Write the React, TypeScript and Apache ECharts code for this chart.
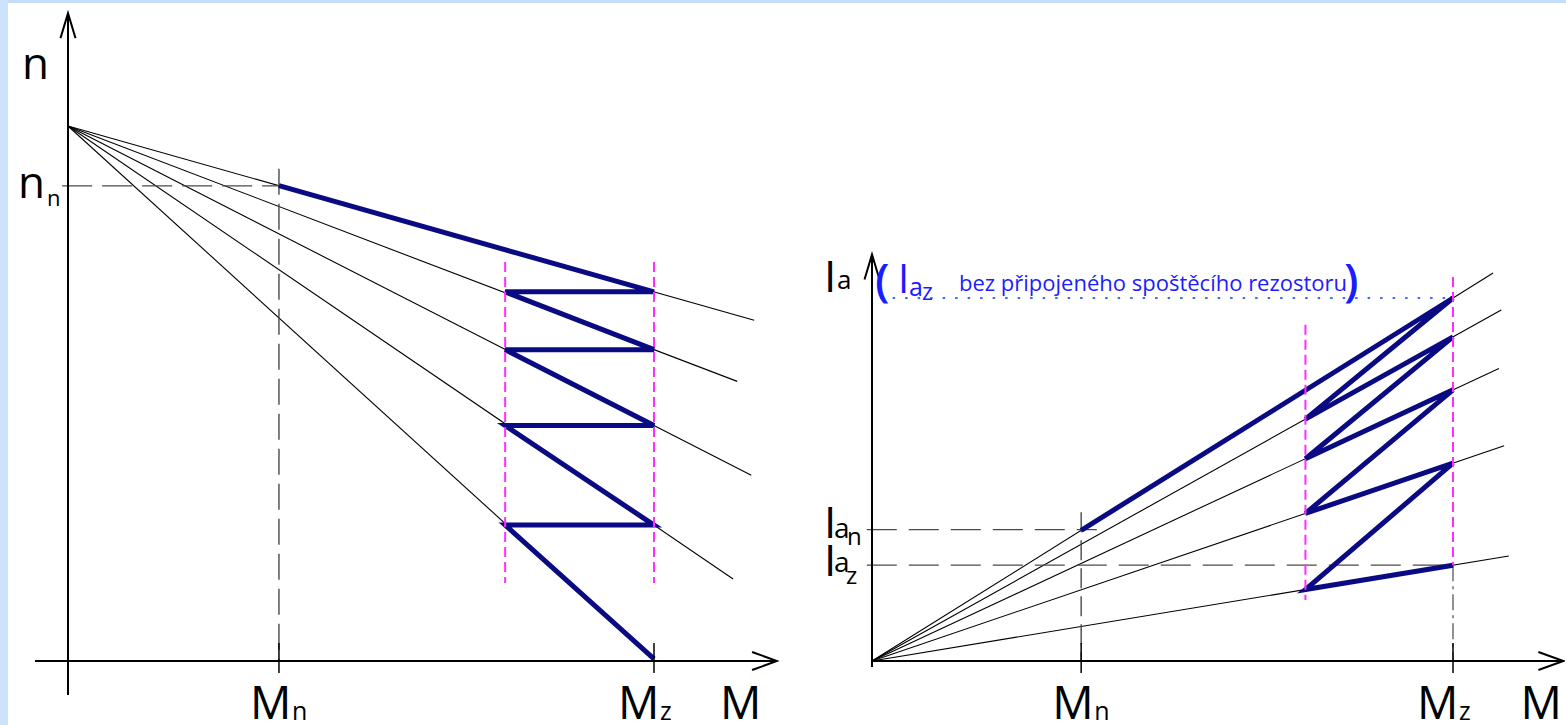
import React, { useEffect, useRef } from 'react';
import * as echarts from 'echarts';

// Torque marks shared by both diagrams (M_z = 100)
const TORQUE_NOMINAL = 36;
const TORQUE_SWITCH = 74.6;
const TORQUE_MAX = 100;

// Speed characteristics n(M)
const SPEED_IDLE = 100;
const SPEED_NOMINAL = 88.8;
const speedAtMz = [69.0, 58.2, 44.0, 25.4, 0.4];
const speedLineEnd = [117.1, 114.2, 116.6, 113.5, 100];

// Armature current characteristics Ia(M)
const currentAtMz = [100, 89.3, 74.7, 54.5, 26.4];
const currentLineEnd = [106.9, 108.3, 107.9, 108.8, 109.6];
const CURRENT_NOMINAL = 36.2;
const CURRENT_SWITCH = 26.4;

// Text
const TXT_NOTE = 'bez připojeného spoštěcího rezostoru';

// Layout of the two coordinate systems (origin in px, px per unit, axis extents)
const LEFT = { ox: 68, oy: 661, sx: 5.86, sy: 5.35, xMin: -7, xMax: 121, yMin: -8, yMax: 121.1 };
const RIGHT = { ox: 872, oy: 661, sx: 5.81, sy: 3.63, xMin: -3, xMax: 119, yMin: -4, yMax: 112 };

const FONT = 'Open Sans';
const NAVY = '#0a0a82';
const MAGENTA = '#ff2eff';
const GREY = '#4a4a4a';
const BLUE = '#1c1cff';

const speedAt = (k: number, m: number) => SPEED_IDLE - ((SPEED_IDLE - speedAtMz[k]) * m) / TORQUE_MAX;
const currentAt = (k: number, m: number) => (currentAtMz[k] * m) / TORQUE_MAX;

function seg(gi: number, data: number[][], color: string, width: number, dash?: number[] | string, z = 2) {
  return {
    type: 'line',
    xAxisIndex: gi,
    yAxisIndex: gi,
    data,
    symbol: 'none',
    clip: false,
    silent: true,
    z,
    lineStyle: { color, width, type: dash ?? 'solid', cap: 'butt', join: 'miter' },
  };
}

// axis line with an open chevron arrow head
function axisSeries(gi: number, g: typeof LEFT, startX: number, startY: number) {
  const ax = 25 / g.sx, bx = 9 / g.sy; // x-axis arrow arms
  const ay = 25 / g.sy, by = 7.5 / g.sx; // y-axis arrow arms
  return [
    seg(gi, [[startX, 0], [g.xMax, 0]], '#000', 2, undefined, 5),
    seg(gi, [[g.xMax - ax, bx], [g.xMax, 0], [g.xMax - ax, -bx]], '#000', 2, undefined, 5),
    seg(gi, [[0, startY], [0, g.yMax]], '#000', 2, undefined, 5),
    seg(gi, [[-by, g.yMax - ay], [0, g.yMax], [by, g.yMax - ay]], '#000', 2, undefined, 5),
  ];
}

function tick(gi: number, g: typeof LEFT, m: number) {
  return seg(gi, [[m, -12 / g.sy], [m, 18 / g.sy]], '#000', 1.5, undefined, 5);
}

export default function App() {
  const ref = useRef<HTMLDivElement>(null);

  useEffect(() => {
    if (!ref.current) return;
    const chart = echarts.init(ref.current, undefined, { renderer: 'svg' });

    const series: any[] = [];

    // ---- left: speed n(M)
    speedAtMz.forEach((_, k) => {
      const e = speedLineEnd[k];
      series.push(seg(0, [[0, SPEED_IDLE], [e, speedAt(k, e)]], '#000', 1.1));
    });
    series.push(seg(0, [[-1, SPEED_NOMINAL], [TORQUE_NOMINAL, SPEED_NOMINAL]], GREY, 1.4, [30, 10]));
    series.push(seg(0, [[TORQUE_NOMINAL, 92], [TORQUE_NOMINAL, 0]], GREY, 1.4, [26, 9]));
    // starting steps: at M_z switch to the next characteristic at constant speed
    const heavyL: number[][] = [
      [TORQUE_NOMINAL, speedAt(0, TORQUE_NOMINAL)],
      [TORQUE_MAX, speedAtMz[0]],
    ];
    for (let k = 1; k < speedAtMz.length; k++) {
      heavyL.push([TORQUE_SWITCH, speedAtMz[k - 1]]);
      heavyL.push([TORQUE_MAX, speedAtMz[k]]);
    }
    series.push(seg(0, heavyL, NAVY, 5, undefined, 4));
    series.push(seg(0, [[TORQUE_SWITCH, 74.6], [TORQUE_SWITCH, 14.6]], MAGENTA, 2, [10, 5], 6));
    series.push(seg(0, [[TORQUE_MAX, 74.6], [TORQUE_MAX, 14.6]], MAGENTA, 2, [10, 5], 6));
    series.push(...axisSeries(0, LEFT, -33 / LEFT.sx, -34 / LEFT.sy));
    series.push(tick(0, LEFT, TORQUE_NOMINAL), tick(0, LEFT, TORQUE_MAX));

    // ---- right: armature current Ia(M)
    currentAtMz.forEach((_, k) => {
      const e = currentLineEnd[k];
      series.push(seg(1, [[0, 0], [e, currentAt(k, e)]], '#000', 1.1));
    });
    series.push(seg(1, [[-0.9, CURRENT_NOMINAL], [38.7, CURRENT_NOMINAL]], GREY, 1.4, [30, 12]));
    series.push(seg(1, [[-0.9, CURRENT_SWITCH], [TORQUE_MAX, CURRENT_SWITCH]], GREY, 1.4, [30, 12]));
    series.push(seg(1, [[TORQUE_NOMINAL, 41], [TORQUE_NOMINAL, 0]], GREY, 1.4, [20, 8]));
    series.push(seg(1, [[TORQUE_MAX, CURRENT_SWITCH], [TORQUE_MAX, 0]], GREY, 1.2, [16, 5, 3, 5]));
    series.push(seg(1, [[1.4, currentAtMz[0]], [TORQUE_MAX, currentAtMz[0]]], '#3b6cf5', 2, [2.5, 10]));
    const heavyR: number[][] = [
      [TORQUE_NOMINAL, currentAt(0, TORQUE_NOMINAL)],
      [TORQUE_MAX, currentAt(0, TORQUE_MAX)],
    ];
    for (let k = 1; k < currentAtMz.length; k++) {
      heavyR.push([TORQUE_SWITCH, currentAt(k, TORQUE_SWITCH)]);
      heavyR.push([TORQUE_MAX, currentAt(k, TORQUE_MAX)]);
    }
    series.push(seg(1, heavyR, NAVY, 5, undefined, 4));
    series.push(seg(1, [[TORQUE_SWITCH, 92.6], [TORQUE_SWITCH, 16.8]], MAGENTA, 2, [10, 5], 6));
    series.push(seg(1, [[TORQUE_MAX, 105.8], [TORQUE_MAX, CURRENT_SWITCH]], MAGENTA, 2, [10, 5], 6));
    series.push(...axisSeries(1, RIGHT, 0, -6 / RIGHT.sy));
    series.push(tick(1, RIGHT, TORQUE_NOMINAL), tick(1, RIGHT, TORQUE_MAX));

    const grid = (g: typeof LEFT) => ({
      left: g.ox + g.xMin * g.sx,
      top: g.oy - g.yMax * g.sy,
      width: (g.xMax - g.xMin) * g.sx,
      height: (g.yMax - g.yMin) * g.sy,
    });
    const xAx = (gi: number, g: typeof LEFT) => ({ type: 'value', gridIndex: gi, min: g.xMin, max: g.xMax, show: false });
    const yAx = (gi: number, g: typeof LEFT) => ({ type: 'value', gridIndex: gi, min: g.yMin, max: g.yMax, show: false });

    chart.setOption({
      animation: false,
      backgroundColor: '#ffffff',
      grid: [grid(LEFT), grid(RIGHT)],
      xAxis: [xAx(0, LEFT), xAx(1, RIGHT)],
      yAxis: [yAx(0, LEFT), yAx(1, RIGHT)],
      series,
    });

    const pL = (x: number, y: number) => chart.convertToPixel({ xAxisIndex: 0, yAxisIndex: 0 }, [x, y]) as number[];
    const pR = (x: number, y: number) => chart.convertToPixel({ xAxisIndex: 1, yAxisIndex: 1 }, [x, y]) as number[];

    const txt = (text: string, x: number, y: number, size: number, fill = '#000', weight = 'normal') => ({
      type: 'text',
      x,
      y,
      silent: true,
      z: 10,
      style: {
        text,
        fill,
        fontSize: size,
        fontWeight: weight,
        fontFamily: FONT,
        lineHeight: Math.round(size * 0.8),
        align: 'left',
        verticalAlign: 'middle',
        textAlign: 'left',
        textVerticalAlign: 'middle',
      },
    });

    const oL = pL(0, 0);
    const mnL = pL(TORQUE_NOMINAL, 0);
    const mzL = pL(TORQUE_MAX, 0);
    const endL = pL(LEFT.xMax, LEFT.yMax);
    const nnY = pL(0, SPEED_NOMINAL)[1];

    const oR = pR(0, 0);
    const mnR = pR(TORQUE_NOMINAL, 0);
    const mzR = pR(TORQUE_MAX, 0);
    const endR = pR(RIGHT.xMax, RIGHT.yMax);
    const ianY = pR(0, CURRENT_NOMINAL)[1];
    const iazY = pR(0, CURRENT_SWITCH)[1];
    const topY = pR(0, currentAtMz[0])[1];

    const mLabel = (x: number, y: number, sub: string) => [
      txt('M', x - 29, y + 40, 46),
      txt(sub, x + 13, y + 49, 25),
    ];

    const graphic: any[] = [
      { type: 'rect', shape: { x: 0, y: 0, width: 1566, height: 3 }, style: { fill: '#c3ddfb' }, silent: true, z: 20 },
      { type: 'rect', shape: { x: 0, y: 0, width: 8, height: 725 }, style: { fill: '#cde2fb' }, silent: true, z: 20 },
      // left diagram
      txt('n', oL[0] - 46, endL[1] + 49, 44),
      txt('n', oL[0] - 50, nnY - 5, 44),
      txt('n', oL[0] - 21, nnY + 11, 22),
      ...mLabel(mnL[0], mnL[1], 'n'),
      ...mLabel(mzL[0] - 7, mzL[1], 'z'),
      txt('M', endL[0] - 57, oL[1] + 40, 46),
      // right diagram
      txt('I', oR[0] - 48, endR[1] + 21, 44),
      txt('a', oR[0] - 35, endR[1] + 25, 26),
      txt('I', oR[0] - 48, ianY - 9, 44),
      txt('a', oR[0] - 38, ianY - 3, 28),
      txt('n', oR[0] - 25, ianY + 6, 24),
      txt('I', oR[0] - 48, iazY - 6, 44),
      txt('a', oR[0] - 38, iazY - 4, 28),
      txt('z', oR[0] - 26, iazY + 9, 24),
      ...mLabel(mnR[0], mnR[1], 'n'),
      ...mLabel(mzR[0] - 7, mzR[1], 'z'),
      txt('M', endR[0] - 43, oR[1] + 40, 46),
      // note on the current at M_z without starting resistor
      txt('(', oR[0] + 3, topY - 20, 46, BLUE, '600'),
      txt('I', oR[0] + 26, topY - 21, 40, BLUE),
      txt('a', oR[0] + 37, topY - 12, 25, BLUE),
      txt('z', oR[0] + 50, topY - 7, 23, BLUE),
      txt(TXT_NOTE, oR[0] + 87, topY - 16, 22, BLUE),
      txt(')', oR[0] + 472, topY - 20, 46, BLUE, '600'),
    ];

    chart.setOption({ graphic });

    return () => chart.dispose();
  }, []);

  return (
    <div style={{ position: 'absolute', left: 0, top: 0, width: 1566, height: 725, background: '#fff' }}>
      <div ref={ref} style={{ width: 1566, height: 725 }} />
    </div>
  );
}
